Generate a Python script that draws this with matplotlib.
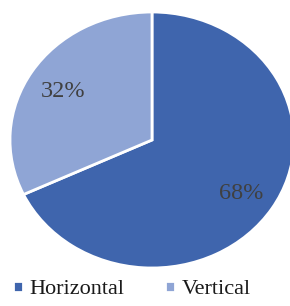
import matplotlib
matplotlib.use('Agg')
import matplotlib.pyplot as plt

# ====== Data ======
labels = ['Horizontal', 'Vertical']
shares = [68, 32]
colors = ['#3F65AD', '#8FA5D5']

plt.rcParams['font.family'] = ['Liberation Serif', 'DejaVu Serif']

fig = plt.figure(figsize=(2.9, 3.06), dpi=100)
ax = fig.add_axes([10 / 290, 38 / 306, 284 / 290, 256 / 306])

wedges, texts, autotexts = ax.pie(
    shares, colors=colors, startangle=90, counterclock=False,
    autopct='%1.0f%%', pctdistance=0.74,
    wedgeprops=dict(edgecolor='white', linewidth=2.0),
    textprops=dict(fontsize=17.5, color='#404040', va='center_baseline'))
ax.set_aspect('auto')
ax.set_xlim(-1, 1)
ax.set_ylim(-1, 1)

fig.legend(wedges, labels, loc='center', bbox_to_anchor=(0.455, 1 - 290 / 306),
           ncol=2, frameon=False, fontsize=16,
           handlelength=0.42, handleheight=0.42, handletextpad=0.3,
           columnspacing=1.85, labelcolor='#1a1a1a')

fig.savefig('out.png', dpi=100)
